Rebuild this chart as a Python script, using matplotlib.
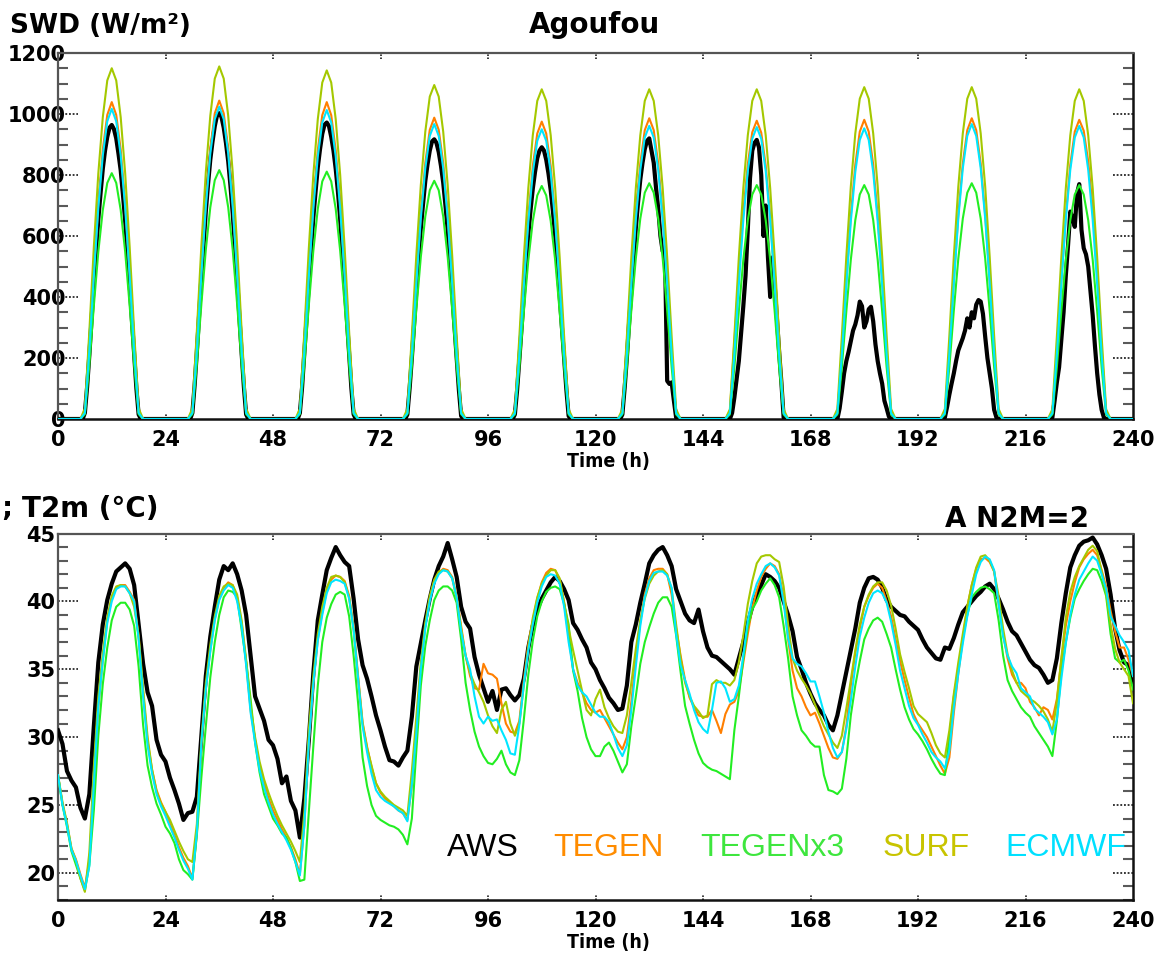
import matplotlib
matplotlib.use("Agg")
import matplotlib.pyplot as plt
from matplotlib.ticker import MultipleLocator
import matplotlib.transforms as mtrans

# ---------------------------------------------------------------- data
X_TICKS = [0, 24, 48, 72, 96, 120, 144, 168, 192, 216, 240]
SWD_MAJOR = [0, 200, 400, 600, 800, 1000, 1200]
T2M_MAJOR = [20, 25, 30, 35, 40, 45]
SERIES = ["AWS", "TEGEN", "TEGENx3", "SURF", "ECMWF"]
HOURS = list(range(0, 241))

# SWD of the models: hourly values from 06h to 18h of each of the 10 days (night = 0)
SWD_TEGEN_DAYS = [
    [21, 229, 478, 707, 883, 997, 1039, 997, 883, 707, 478, 229, 21],
    [21, 230, 480, 710, 887, 1002, 1044, 1002, 887, 710, 480, 230, 21],
    [20, 228, 477, 706, 882, 996, 1039, 996, 882, 706, 477, 228, 20],
    [20, 217, 454, 672, 840, 948, 988, 948, 840, 672, 454, 217, 20],
    [20, 215, 449, 663, 829, 936, 975, 936, 829, 663, 449, 215, 20],
    [20, 217, 454, 670, 838, 947, 986, 947, 838, 670, 454, 217, 20],
    [25, 250, 480, 680, 835, 940, 978, 939, 831, 665, 450, 215, 20],
    [20, 216, 451, 667, 834, 942, 981, 942, 834, 667, 451, 216, 20],
    [20, 217, 454, 670, 838, 947, 986, 947, 838, 670, 454, 217, 20],
    [20, 216, 451, 667, 834, 942, 981, 945, 845, 690, 480, 230, 20],
]
SWD_TEGENX3_DAYS = [
    [16, 177, 371, 548, 685, 774, 806, 774, 685, 548, 371, 177, 16],
    [16, 180, 375, 555, 694, 783, 816, 783, 694, 555, 375, 180, 16],
    [16, 178, 373, 551, 689, 779, 811, 779, 689, 551, 373, 178, 16],
    [16, 172, 359, 531, 664, 750, 781, 750, 664, 531, 359, 172, 16],
    [15, 168, 351, 520, 649, 733, 764, 733, 649, 520, 351, 168, 15],
    [15, 170, 356, 526, 657, 742, 773, 742, 657, 526, 356, 170, 15],
    [15, 169, 353, 522, 652, 736, 767, 736, 652, 522, 353, 169, 15],
    [15, 169, 353, 522, 652, 736, 767, 736, 652, 522, 353, 169, 15],
    [15, 170, 356, 526, 657, 742, 773, 742, 657, 526, 356, 170, 15],
    [15, 169, 353, 522, 652, 736, 767, 736, 652, 522, 353, 169, 15],
]
SWD_SURF_DAYS = [
    [35, 288, 564, 805, 989, 1110, 1150, 1110, 989, 805, 564, 288, 35],
    [35, 289, 566, 809, 994, 1116, 1156, 1116, 994, 809, 566, 289, 35],
    [34, 286, 560, 800, 983, 1103, 1143, 1103, 983, 800, 560, 286, 34],
    [33, 274, 537, 767, 942, 1057, 1095, 1057, 942, 767, 537, 274, 33],
    [32, 270, 530, 757, 930, 1043, 1081, 1043, 930, 757, 530, 270, 32],
    [32, 270, 530, 757, 930, 1043, 1081, 1043, 930, 757, 530, 270, 32],
    [32, 270, 530, 757, 930, 1043, 1081, 1043, 930, 757, 530, 270, 32],
    [33, 272, 533, 762, 936, 1050, 1088, 1050, 936, 762, 533, 272, 33],
    [33, 272, 533, 762, 936, 1050, 1088, 1050, 936, 762, 533, 272, 33],
    [32, 270, 530, 757, 930, 1043, 1081, 1043, 930, 757, 530, 270, 32],
]
SWD_ECMWF_DAYS = [
    [20, 224, 468, 692, 864, 976, 1017, 976, 864, 692, 468, 224, 20],
    [20, 225, 471, 696, 870, 983, 1024, 983, 870, 696, 471, 225, 20],
    [20, 223, 466, 689, 861, 972, 1013, 972, 861, 689, 466, 223, 20],
    [19, 213, 445, 658, 822, 928, 967, 928, 822, 658, 445, 213, 19],
    [19, 209, 437, 646, 808, 912, 950, 912, 808, 646, 437, 209, 19],
    [19, 211, 442, 653, 817, 923, 961, 923, 817, 653, 442, 211, 19],
    [19, 211, 440, 651, 813, 919, 957, 919, 813, 651, 440, 211, 19],
    [19, 210, 438, 648, 810, 915, 953, 915, 810, 648, 438, 210, 19],
    [19, 213, 445, 658, 822, 928, 967, 928, 822, 658, 445, 213, 19],
    [19, 211, 442, 653, 817, 923, 961, 923, 817, 653, 442, 211, 19],
]
# AWS SWD: half-hourly values from 06h00 to 18h00 of each day (night = 0)
SWD_AWS_DAYS = [
    [20, 105, 210, 330, 445, 550, 655, 740, 820, 880, 925, 955, 964, 950, 920, 870, 815, 735, 650, 545, 440, 325, 205, 100, 15],
    [20, 110, 220, 340, 460, 570, 680, 770, 850, 910, 960, 995, 1003, 990, 955, 905, 845, 765, 675, 565, 455, 335, 215, 105, 15],
    [20, 105, 215, 330, 445, 555, 660, 745, 825, 885, 935, 965, 972, 960, 925, 880, 820, 745, 655, 550, 440, 325, 210, 100, 15],
    [15, 100, 200, 310, 420, 530, 625, 705, 780, 835, 880, 910, 917, 905, 875, 830, 775, 700, 620, 520, 415, 305, 200, 95, 10],
    [15, 95, 195, 300, 410, 510, 605, 685, 755, 810, 855, 880, 891, 880, 850, 805, 750, 680, 600, 505, 405, 300, 195, 95, 10],
    [15, 100, 200, 315, 420, 525, 625, 710, 785, 840, 885, 912, 920, 880, 840, 760, 690, 600, 550, 560, 125, 115, 120, 60, 5],
    [0, 20, 70, 130, 190, 280, 370, 470, 620, 790, 880, 905, 915, 890, 800, 600, 700, 530, 400, 530, 440, 330, 220, 120, 5],
    [0, 35, 90, 150, 190, 220, 255, 290, 310, 340, 385, 370, 300, 320, 360, 368, 320, 245, 190, 150, 116, 60, 35, 8, 0],
    [5, 40, 80, 116, 150, 190, 225, 245, 265, 290, 330, 300, 350, 330, 375, 390, 385, 345, 270, 200, 150, 100, 30, 5, 0],
    [5, 60, 120, 170, 260, 350, 470, 570, 680, 660, 630, 740, 770, 620, 560, 540, 500, 420, 340, 240, 150, 80, 30, 5, 0],
]

# T2m, hourly, one row per day (last row includes hour 240)
T2M_AWS_DAYS = [
    [30.5, 29.5, 27.5, 26.8, 26.3, 24.8, 24.0, 25.8, 30.8, 35.5, 38.3, 40.1, 41.3, 42.2, 42.5, 42.8, 42.4, 41.2, 38.3, 35.4, 33.3, 32.3, 29.8, 28.7],
    [28.2, 27.0, 26.1, 25.1, 23.9, 24.4, 24.5, 25.6, 30.0, 34.5, 37.4, 39.6, 41.6, 42.6, 42.3, 42.8, 42.0, 40.8, 39.0, 36.0, 33.0, 32.1, 31.2, 29.8],
    [29.4, 28.4, 26.6, 27.1, 25.3, 24.6, 22.6, 25.5, 29.8, 34.7, 38.6, 40.5, 42.3, 43.2, 44.0, 43.4, 42.9, 42.6, 40.2, 37.2, 35.3, 34.3, 33.0, 31.6],
    [30.5, 29.3, 28.3, 28.2, 27.9, 28.5, 29.0, 31.5, 35.2, 36.9, 38.6, 40.2, 41.6, 42.6, 43.3, 44.3, 43.1, 41.8, 39.6, 38.5, 38.0, 35.9, 34.6, 33.6],
    [32.6, 33.4, 32.0, 33.5, 33.6, 33.1, 32.7, 33.1, 34.3, 36.6, 38.2, 39.4, 40.2, 40.8, 41.4, 41.8, 41.5, 40.9, 40.1, 38.4, 37.9, 37.2, 36.6, 35.5],
    [35.0, 34.2, 33.6, 32.9, 32.5, 32.0, 32.1, 33.8, 37.0, 38.3, 39.9, 41.3, 42.8, 43.4, 43.8, 44.0, 43.4, 42.6, 40.9, 40.0, 39.1, 38.6, 38.4, 39.4],
    [37.8, 36.6, 36.0, 35.9, 35.6, 35.3, 35.0, 34.6, 35.8, 37.0, 38.4, 39.6, 40.5, 41.2, 42.0, 41.8, 41.5, 41.0, 40.0, 39.0, 37.8, 35.9, 35.0, 34.0],
    [33.2, 32.5, 32.0, 31.6, 30.9, 30.5, 31.6, 33.2, 34.8, 36.4, 38.0, 39.9, 41.0, 41.7, 41.8, 41.6, 41.0, 40.1, 39.6, 39.3, 39.0, 38.9, 38.5, 38.2],
    [37.9, 37.2, 36.6, 36.2, 35.8, 35.7, 36.6, 36.5, 37.3, 38.3, 39.2, 39.6, 40.0, 40.4, 40.7, 41.1, 41.3, 40.9, 40.2, 39.4, 38.5, 37.8, 37.5, 36.9],
    [36.3, 35.7, 35.3, 35.1, 34.6, 34.0, 34.2, 35.8, 38.4, 40.6, 42.5, 43.4, 44.1, 44.4, 44.5, 44.7, 44.2, 43.4, 42.4, 40.5, 38.0, 36.4, 35.5, 35.3, 34.2],
]
T2M_TEGEN_DAYS = [
    [27.2, 25.1, 23.6, 21.8, 21.0, 19.9, 18.9, 20.9, 26.4, 32.2, 35.7, 38.6, 40.2, 41.0, 41.2, 41.2, 40.7, 40.1, 37.4, 33.3, 29.7, 27.6, 26.1, 25.2],
    [24.5, 23.6, 22.8, 21.9, 21.1, 20.5, 19.6, 22.9, 29.4, 33.6, 36.4, 38.7, 40.2, 41.0, 41.4, 41.2, 40.2, 38.4, 35.5, 32.0, 29.8, 27.9, 26.6, 25.5],
    [24.6, 23.9, 23.2, 22.6, 21.9, 21.0, 19.9, 23.5, 29.6, 33.9, 37.2, 39.2, 40.8, 41.6, 41.9, 41.8, 41.5, 40.4, 38.1, 34.5, 31.1, 29.3, 27.8, 26.6],
    [25.9, 25.5, 25.2, 24.9, 24.6, 24.4, 23.9, 26.4, 30.7, 35.1, 38.2, 40.2, 41.5, 42.1, 42.4, 42.3, 41.8, 40.4, 38.2, 36.0, 34.5, 33.6, 33.5, 35.4],
    [34.7, 34.6, 34.3, 32.5, 31.0, 30.4, 30.3, 31.2, 34.2, 36.8, 38.6, 40.2, 41.4, 42.1, 42.4, 42.3, 41.6, 39.9, 37.4, 35.0, 34.0, 33.3, 32.5, 32.0],
    [31.8, 32.0, 31.4, 30.8, 30.2, 29.6, 29.1, 30.0, 32.6, 35.8, 38.5, 40.5, 41.7, 42.3, 42.4, 42.4, 42.0, 40.5, 38.0, 36.0, 34.2, 32.9, 32.2, 31.6],
    [31.5, 31.5, 32.0, 31.2, 30.3, 31.7, 32.4, 32.6, 33.4, 35.5, 37.6, 39.5, 40.8, 41.8, 42.4, 42.8, 42.6, 42.0, 40.3, 37.2, 34.9, 33.6, 33.0, 32.2],
    [31.6, 31.8, 31.0, 30.1, 29.2, 28.5, 28.4, 28.9, 30.8, 33.8, 36.2, 38.0, 39.6, 40.4, 41.0, 41.3, 41.0, 40.0, 38.9, 37.2, 35.6, 34.2, 32.9, 31.7],
    [31.0, 30.5, 30.0, 29.3, 28.6, 27.9, 27.3, 28.5, 31.8, 34.7, 37.2, 39.6, 41.2, 42.4, 43.1, 43.2, 42.9, 42.2, 39.8, 37.6, 35.8, 34.6, 34.0, 34.0],
    [33.6, 32.6, 32.2, 31.6, 32.2, 32.0, 31.3, 32.8, 35.7, 38.2, 40.0, 41.4, 42.5, 43.1, 43.5, 43.8, 43.4, 42.3, 41.1, 39.3, 37.8, 36.6, 36.6, 35.7, 34.5],
]
T2M_TEGENX3_DAYS = [
    [27.2, 25.0, 23.4, 21.6, 20.6, 19.6, 18.7, 20.6, 24.6, 30.1, 33.9, 36.6, 38.6, 39.6, 39.9, 39.9, 39.4, 38.2, 35.2, 30.9, 27.9, 26.3, 25.1, 24.3],
    [23.4, 22.9, 22.2, 21.0, 20.2, 19.9, 19.5, 22.8, 27.0, 30.8, 34.4, 37.0, 39.0, 40.3, 40.8, 40.7, 40.3, 37.9, 35.6, 32.8, 29.6, 27.4, 25.8, 24.9],
    [24.0, 23.5, 22.9, 22.6, 21.8, 20.8, 19.4, 19.5, 24.5, 29.3, 33.8, 37.0, 38.8, 39.8, 40.5, 40.7, 40.5, 38.9, 36.0, 32.5, 28.5, 26.4, 25.0, 24.2],
    [23.9, 23.7, 23.5, 23.4, 23.2, 22.8, 22.1, 24.0, 29.0, 33.8, 36.7, 38.6, 40.1, 40.8, 41.1, 41.1, 40.8, 39.9, 37.2, 34.0, 32.0, 30.4, 29.3, 28.6],
    [28.1, 28.0, 28.4, 29.0, 28.0, 27.4, 27.2, 28.3, 31.3, 34.6, 37.1, 38.9, 40.0, 40.7, 41.0, 41.1, 40.9, 39.8, 38.3, 34.9, 33.4, 31.4, 30.0, 29.1],
    [28.6, 28.6, 29.3, 29.6, 29.0, 28.2, 27.4, 28.0, 30.8, 33.0, 35.4, 37.0, 38.1, 39.1, 39.9, 40.3, 40.3, 39.6, 37.5, 34.8, 32.3, 31.0, 29.8, 28.8],
    [28.1, 27.8, 27.6, 27.5, 27.3, 27.1, 26.9, 30.5, 33.0, 35.8, 38.1, 39.4, 40.0, 40.8, 41.3, 41.7, 41.2, 40.3, 38.2, 35.8, 33.0, 31.6, 30.5, 30.1],
    [29.6, 29.3, 29.3, 27.2, 26.1, 26.0, 25.8, 26.2, 28.4, 31.6, 33.8, 35.6, 37.2, 38.0, 38.6, 38.8, 38.5, 37.6, 36.6, 35.0, 33.5, 32.2, 31.3, 30.6],
    [30.2, 29.7, 29.1, 28.4, 27.8, 27.3, 27.2, 30.0, 33.0, 35.0, 37.3, 39.0, 40.3, 40.7, 41.0, 41.1, 40.9, 40.6, 38.6, 36.0, 34.2, 33.4, 32.8, 32.2],
    [31.8, 31.5, 30.8, 30.3, 29.8, 29.3, 28.6, 31.2, 34.8, 37.0, 38.8, 40.2, 40.9, 41.5, 42.0, 42.4, 42.3, 41.5, 40.4, 37.6, 35.8, 35.5, 35.7, 34.9, 33.5],
]
T2M_SURF_DAYS = [
    [27.2, 25.2, 23.7, 21.8, 20.9, 19.6, 18.6, 21.5, 27.8, 33.0, 36.2, 38.8, 40.4, 41.1, 41.2, 41.1, 40.6, 39.6, 37.5, 33.6, 30.0, 27.6, 26.0, 25.1],
    [24.5, 23.9, 23.1, 22.3, 21.6, 21.0, 20.8, 23.6, 29.8, 34.0, 36.8, 38.9, 40.4, 41.1, 41.3, 41.2, 40.5, 38.6, 35.7, 32.3, 30.0, 28.2, 26.9, 25.9],
    [25.0, 24.2, 23.5, 22.9, 22.3, 21.6, 20.8, 24.5, 30.5, 34.5, 37.6, 39.6, 41.0, 41.8, 41.9, 41.8, 41.4, 40.3, 37.9, 34.3, 31.0, 29.2, 27.9, 26.6],
    [26.0, 25.6, 25.3, 25.0, 24.8, 24.6, 24.2, 27.5, 31.5, 35.5, 38.4, 40.4, 41.6, 42.2, 42.3, 42.2, 41.7, 40.2, 38.0, 36.0, 34.7, 33.9, 33.3, 32.6],
    [31.6, 30.8, 30.3, 32.0, 32.6, 31.0, 30.1, 31.0, 33.8, 36.6, 38.8, 40.3, 41.3, 41.9, 42.3, 42.3, 41.7, 39.9, 38.0, 36.4, 34.9, 33.4, 32.0, 31.6],
    [32.8, 33.5, 32.2, 31.4, 30.8, 30.4, 30.3, 31.6, 34.0, 36.5, 38.6, 40.2, 41.3, 41.9, 42.2, 42.3, 42.0, 40.9, 38.3, 35.8, 34.0, 33.0, 32.3, 31.9],
    [31.4, 31.6, 33.9, 34.2, 34.0, 34.0, 33.8, 34.2, 35.5, 37.5, 39.8, 41.5, 42.8, 43.3, 43.4, 43.4, 43.1, 42.9, 41.1, 38.3, 35.8, 34.9, 34.3, 33.8],
    [33.2, 32.4, 31.6, 30.8, 30.2, 29.6, 29.2, 30.1, 32.1, 34.2, 36.4, 38.3, 39.6, 40.5, 41.1, 41.4, 41.4, 40.8, 39.7, 38.0, 36.1, 34.8, 33.6, 32.3],
    [31.7, 31.4, 31.1, 30.3, 29.4, 28.8, 28.5, 30.5, 33.2, 35.5, 37.6, 39.6, 41.2, 42.5, 43.3, 43.4, 43.0, 42.2, 40.4, 38.0, 36.1, 34.9, 34.0, 33.4],
    [33.1, 32.8, 32.6, 32.3, 31.9, 31.3, 30.4, 32.6, 35.8, 38.8, 40.7, 41.8, 42.6, 43.2, 43.8, 44.1, 43.7, 42.2, 40.6, 38.3, 36.5, 35.5, 35.0, 34.5, 32.5],
]
T2M_ECMWF_DAYS = [
    [27.2, 25.0, 23.5, 21.7, 20.9, 19.8, 18.8, 20.5, 26.5, 32.3, 35.6, 38.4, 40.0, 40.9, 41.1, 41.1, 40.6, 40.0, 37.2, 33.0, 29.4, 27.3, 25.8, 24.9],
    [24.2, 23.4, 22.6, 21.7, 20.9, 20.3, 19.5, 23.0, 29.5, 33.5, 36.3, 38.6, 40.1, 40.8, 41.2, 41.0, 40.0, 38.2, 35.3, 31.8, 29.6, 27.6, 26.3, 25.2],
    [24.3, 23.6, 23.0, 22.4, 21.7, 20.8, 19.8, 23.5, 29.6, 33.9, 37.1, 39.0, 40.6, 41.4, 41.6, 41.5, 41.3, 40.2, 37.9, 34.3, 30.8, 28.9, 27.3, 26.1],
    [25.6, 25.3, 25.1, 24.9, 24.6, 24.4, 23.8, 26.5, 30.3, 35.0, 38.0, 40.0, 41.3, 42.0, 42.3, 42.2, 41.7, 40.3, 37.8, 36.0, 35.0, 33.0, 31.5, 31.0],
    [31.5, 31.2, 31.3, 30.5, 29.8, 28.8, 28.7, 30.9, 33.9, 36.4, 38.3, 39.9, 41.1, 41.8, 42.0, 41.9, 41.3, 39.6, 37.0, 35.0, 33.8, 33.3, 33.0, 32.4],
    [31.8, 31.5, 31.5, 31.1, 30.2, 29.2, 28.6, 29.4, 32.0, 35.2, 38.2, 40.3, 41.5, 42.1, 42.2, 42.2, 41.9, 41.0, 37.6, 35.3, 34.2, 33.2, 32.0, 31.1],
    [30.6, 30.3, 32.0, 34.0, 34.1, 33.6, 32.6, 32.8, 33.8, 36.0, 38.6, 40.2, 41.3, 42.0, 42.6, 42.8, 42.5, 41.9, 39.9, 37.3, 35.8, 35.4, 35.2, 34.7],
    [34.1, 34.1, 33.0, 31.8, 30.4, 29.2, 28.5, 28.9, 30.6, 32.7, 35.2, 37.4, 38.8, 39.9, 40.6, 40.8, 40.6, 39.9, 38.5, 36.8, 34.9, 33.6, 32.3, 31.4],
    [30.9, 30.2, 29.6, 28.9, 28.5, 28.2, 27.7, 29.0, 32.2, 34.7, 36.9, 38.9, 40.5, 42.0, 42.9, 43.3, 43.1, 42.3, 39.8, 37.4, 36.0, 35.2, 34.7, 33.6],
    [33.3, 33.0, 32.1, 31.8, 31.5, 31.1, 30.2, 31.3, 34.3, 36.9, 39.0, 40.5, 41.6, 42.2, 42.8, 43.3, 43.0, 42.0, 40.9, 38.9, 38.2, 37.5, 37.0, 36.4, 34.5],
]

# ---------------------------------------------------------------- style
LINE_COLORS = {"AWS": "#000000", "TEGEN": "#ff7f00", "TEGENx3": "#22ee22",
               "SURF": "#a4c800", "ECMWF": "#00e6ff"}
TEXT_COLORS = {"AWS": "#000000", "TEGEN": "#ff8c00", "TEGENx3": "#3ee63e",
               "SURF": "#c8c400", "ECMWF": "#00e0ff"}
LINE_WIDTHS = {"AWS": 3.0, "TEGEN": 1.5, "TEGENx3": 1.5, "SURF": 1.5, "ECMWF": 1.5}
LEGEND_X = {"AWS": 447, "TEGEN": 553, "TEGENx3": 700, "SURF": 883, "ECMWF": 1005}


def flat(days):
    out = []
    for d in days:
        out.extend(d)
    return out


def swd_hourly(days):
    vals = [0.0] * 241
    for d, day in enumerate(days):
        for k, v in enumerate(day):
            vals[d * 24 + 6 + k] = v
    return vals


def swd_halfhourly(days):
    vals = [0.0] * 481
    for d, day in enumerate(days):
        for k, v in enumerate(day):
            vals[(d * 24 + 6) * 2 + k] = v
    return vals


HALF_HOURS = [i * 0.5 for i in range(481)]
swd = {
    "AWS": (HALF_HOURS, swd_halfhourly(SWD_AWS_DAYS)),
    "TEGEN": (HOURS, swd_hourly(SWD_TEGEN_DAYS)),
    "TEGENx3": (HOURS, swd_hourly(SWD_TEGENX3_DAYS)),
    "SURF": (HOURS, swd_hourly(SWD_SURF_DAYS)),
    "ECMWF": (HOURS, swd_hourly(SWD_ECMWF_DAYS)),
}
t2m = {
    "AWS": flat(T2M_AWS_DAYS),
    "TEGEN": flat(T2M_TEGEN_DAYS),
    "TEGENx3": flat(T2M_TEGENX3_DAYS),
    "SURF": flat(T2M_SURF_DAYS),
    "ECMWF": flat(T2M_ECMWF_DAYS),
}

# ---------------------------------------------------------------- figure
plt.rcParams["font.family"] = ["DejaVu Sans"]
W, H = 1156, 958
fig = plt.figure(figsize=(W / 100, H / 100), dpi=100)


def rect(l, t, r, b):
    return [l / W, 1 - b / H, (r - l) / W, (b - t) / H]


ax1 = fig.add_axes(rect(58, 53, 1133, 419))
ax2 = fig.add_axes(rect(58, 533.5, 1133, 900))


def style_axes(ax, ymin, ymax, majors, minor_step, ypad, hpx):
    ax.set_xlim(0, 240)
    ax.set_ylim(ymin, ymax)
    ax.set_xticks(X_TICKS)
    ax.set_yticks(majors)
    ax.yaxis.set_minor_locator(MultipleLocator(minor_step))
    ax.tick_params(axis="x", which="major", length=0, pad=8, labelsize=15)
    ax.tick_params(axis="y", which="major", length=0, pad=ypad, labelsize=15)
    ax.tick_params(axis="y", which="minor", direction="in", length=7.5,
                   width=1.5, color="#5a5a5a", left=True, right=True)
    for lab in ax.get_xticklabels() + ax.get_yticklabels():
        lab.set_fontweight("bold")
    for side in ["left", "top"]:
        ax.spines[side].set_color("#555555")
        ax.spines[side].set_linewidth(1.6)
    for side in ["bottom", "right"]:
        ax.spines[side].set_color("#111111")
        ax.spines[side].set_linewidth(1.8)
    wpx = 1075.0
    ty = mtrans.blended_transform_factory(ax.transAxes, ax.transData)
    for yv in majors:
        ax.plot([0, 20 / wpx], [yv, yv], transform=ty, ls=(0, (1.2, 1.2)),
                color="black", lw=1.1, clip_on=False, zorder=1)
        ax.plot([1 - 20 / wpx, 1], [yv, yv], transform=ty, ls=(0, (1.2, 1.2)),
                color="black", lw=1.1, clip_on=False, zorder=1)
    tx = mtrans.blended_transform_factory(ax.transData, ax.transAxes)
    for xv in X_TICKS[1:-1]:
        ax.plot([xv, xv], [0, 6 / hpx], transform=tx, ls=(0, (1, 1)),
                color="black", lw=1.1, zorder=1)
        ax.plot([xv, xv], [1 - 6 / hpx, 1], transform=tx, ls=(0, (1, 1)),
                color="black", lw=1.1, zorder=1)


style_axes(ax1, 0, 1200, SWD_MAJOR, 50, -5.5, 366.0)
style_axes(ax2, 18, 45, T2M_MAJOR, 1, 2, 366.5)

for name in SERIES:
    x, y = swd[name]
    ax1.plot(x, y, color=LINE_COLORS[name], lw=LINE_WIDTHS[name], zorder=3)
    ax2.plot(HOURS, t2m[name], color=LINE_COLORS[name], lw=LINE_WIDTHS[name], zorder=3)

# ---------------------------------------------------------------- texts
def ftext(x, y, s, **kw):
    fig.text(x / W, 1 - y / H, s, **kw)


ftext(10, 33, "SWD (W/m²)", ha="left", va="baseline", fontsize=19, fontweight="bold")
ftext(594, 33, "Agoufou", ha="center", va="baseline", fontsize=20, fontweight="bold")
ftext(1, 517, ";", ha="left", va="baseline", fontsize=20, fontweight="bold")
ftext(22, 517, "T2m (°C)", ha="left", va="baseline", fontsize=20, fontweight="bold")
ftext(1089, 527, "A N2M=2", ha="right", va="baseline", fontsize=20, fontweight="bold")
for yb in (467, 948):
    ftext(608, yb, "Time (h)", ha="center", va="baseline", fontsize=14,
          fontweight="bold", family=["DejaVu Sans Condensed", "DejaVu Sans"],
          fontstretch="condensed")

for name in SERIES:
    ftext(LEGEND_X[name], 856.5, name, ha="left", va="baseline", fontsize=23,
          family=["Liberation Sans", "DejaVu Sans"], color=TEXT_COLORS[name])

fig.savefig("out.png", dpi=100)
